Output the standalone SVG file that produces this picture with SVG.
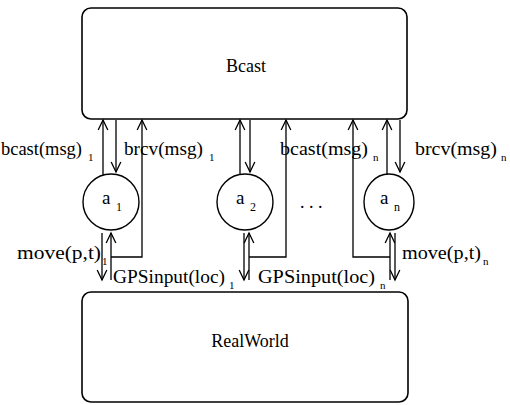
<svg xmlns="http://www.w3.org/2000/svg" width="510" height="405" viewBox="0 0 510 405">
<style>
.box{fill:#fff;stroke:#000;stroke-width:1.6}
.node{fill:#fff;stroke:#000;stroke-width:1.4}
.arr{fill:none;stroke:#000;stroke-width:1.3;marker-end:url(#ah)}
text{font-family:"Liberation Serif","Times New Roman",serif;font-size:18px;fill:#000}
.sub{font-size:11px}
.lbl{font-size:19px}
.lsub{font-size:12px}
</style>
<defs>
<marker id="ah" markerUnits="userSpaceOnUse" markerWidth="14" markerHeight="14" viewBox="-12 -7 14 14" refX="0" refY="0" orient="auto">
<path d="M-10,-4.8 L0,0 L-10,4.8" fill="none" stroke="#000" stroke-width="1.3"/>
</marker>
</defs>
<rect width="510" height="405" fill="#fff"/>
<g id="Bcast">
<rect class="box" x="82" y="8" width="325" height="111" rx="9"/>
<text x="246" y="72" text-anchor="middle">Bcast</text>
</g>
<g id="RealWorld">
<rect class="box" x="82" y="292" width="326" height="110" rx="9"/>
<text x="250" y="347" text-anchor="middle">RealWorld</text>
</g>
<g id="a1">
<circle class="node" cx="111" cy="202" r="28"/>
<text class="lbl" x="102" y="204">a<tspan class="lsub" x="116" y="211">1</tspan></text>
</g>
<g id="a2">
<circle class="node" cx="245" cy="202" r="28"/>
<text class="lbl" x="236" y="204">a<tspan class="lsub" x="250" y="211">2</tspan></text>
</g>
<g id="an">
<ellipse class="node" cx="389" cy="202" rx="25" ry="28"/>
<text class="lbl" x="380" y="204">a<tspan class="lsub" x="394" y="211">n</tspan></text>
</g>
<g id="dots">
<text x="300" y="208">. . .</text>
</g>
<g id="connectors">
<line class="arr" x1="103" y1="175" x2="103" y2="120"/>
<line class="arr" x1="116" y1="120" x2="116" y2="172"/>
<line class="arr" x1="102" y1="233" x2="102" y2="280"/>
<line class="arr" x1="111" y1="280" x2="111" y2="233"/>
<polyline class="arr" points="111,257 142,257 142,120"/>

<line class="arr" x1="240" y1="175" x2="240" y2="120"/>
<line class="arr" x1="250" y1="120" x2="250" y2="172"/>
<line class="arr" x1="244" y1="233" x2="244" y2="280"/>
<line class="arr" x1="249" y1="280" x2="249" y2="233"/>
<polyline class="arr" points="249,257 286,257 286,120"/>

<line class="arr" x1="387" y1="175" x2="387" y2="120"/>
<line class="arr" x1="400" y1="120" x2="400" y2="172"/>
<line class="arr" x1="395" y1="233" x2="395" y2="280"/>
<line class="arr" x1="390" y1="280" x2="390" y2="233"/>
<polyline class="arr" points="390,257 353,257 353,120"/>
</g>
<g id="labels">
<text x="1" y="155" textLength="81" lengthAdjust="spacingAndGlyphs">bcast(msg)</text>
<text class="sub" x="88" y="161">1</text>
<text x="124" y="155" textLength="79" lengthAdjust="spacingAndGlyphs">brcv(msg)</text>
<text class="sub" x="209" y="161">1</text>
<text x="280" y="155" textLength="88" lengthAdjust="spacingAndGlyphs">bcast(msg)</text>
<text class="sub" x="373" y="161">n</text>
<text x="415" y="155" textLength="82" lengthAdjust="spacingAndGlyphs">brcv(msg)</text>
<text class="sub" x="501" y="161">n</text>
<text x="17" y="259" textLength="84" lengthAdjust="spacingAndGlyphs">move(p,t)</text>
<text class="sub" x="102" y="265">1</text>
<text x="402" y="259" textLength="79" lengthAdjust="spacingAndGlyphs">move(p,t)</text>
<text class="sub" x="483" y="265">n</text>
<text x="113" y="283" textLength="112" lengthAdjust="spacingAndGlyphs">GPSinput(loc)</text>
<text class="sub" x="229" y="289">1</text>
<text x="258" y="283" textLength="117" lengthAdjust="spacingAndGlyphs">GPSinput(loc)</text>
<text class="sub" x="380" y="289">n</text>
</g>
</svg>
